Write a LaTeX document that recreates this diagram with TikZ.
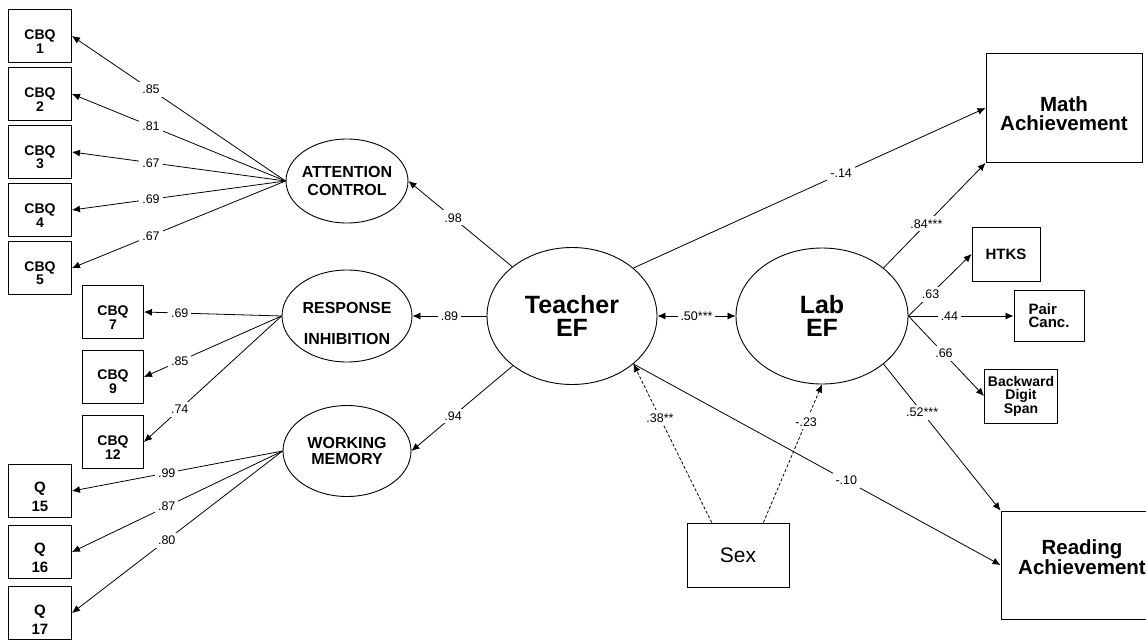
\documentclass[tikz,border=0pt]{standalone}
\usepackage{fontspec}
\setmainfont{Liberation Sans}
\usetikzlibrary{shapes.geometric,arrows.meta}

\begin{document}
\begin{tikzpicture}[x=1pt, y=-1pt, node distance=58pt,
>={Latex[length=8pt,width=7pt]},
every path/.style={line width=0.8pt},
obs/.style={rectangle, draw=black, line width=0.9pt, minimum width=63pt, minimum height=53pt, inner sep=0pt, align=center, font=\bfseries\fontsize{14}{12}\selectfont},
lat/.style={ellipse, draw=black, line width=0.9pt, inner xsep=-8pt, inner ysep=0pt, align=center, font=\bfseries\fontsize{16}{18}\selectfont},
lbl/.style={fill=white, inner sep=3pt, font=\fontsize{12.5}{14}\selectfont},
lower/.style={execute at begin node={\rule{0pt}{#1}}},
raise/.style={execute at end node={\rule[-#1]{0pt}{0pt}}}
]
\useasboundingbox (0,0) rectangle (1146,640);
%Nodes
\node[obs, lower=34pt]  (cbq1)    at (40,36)                  {CBQ\\1};
\node[obs, lower=34pt]  (cbq2)    [below of=cbq1]             {CBQ\\2};
\node[obs, lower=34pt]  (cbq3)    [below of=cbq2]             {CBQ\\3};
\node[obs, lower=34pt]  (cbq4)    [below of=cbq3]             {CBQ\\4};
\node[obs, lower=34pt]  (cbq5)    [below of=cbq4]             {CBQ\\5};
\node[obs, lower=34pt, minimum width=61pt, font=\bfseries\fontsize{14}{14}\selectfont] (cbq7)  at (113,312) {CBQ\\7};
\node[obs, lower=34pt, minimum width=61pt, font=\bfseries\fontsize{14}{14}\selectfont] (cbq9)  [below of=cbq7, yshift=-7pt] {CBQ\\9};
\node[obs, lower=34pt, minimum width=61pt, font=\bfseries\fontsize{14}{14}\selectfont] (cbq12) [below of=cbq9, yshift=-7pt] {CBQ\\12};
\node[obs, lower=42pt, font=\bfseries\fontsize{15}{19}\selectfont] (q15) at (40,491)                 {Q\\15};
\node[obs, lower=42pt, font=\bfseries\fontsize{15}{19}\selectfont] (q16) [below of=q15, yshift=-3pt] {Q\\16};
\node[obs, lower=42pt, font=\bfseries\fontsize{15}{19}\selectfont] (q17) [below of=q16, yshift=-3pt] {Q\\17};

\node[lat, minimum width=122pt, minimum height=84pt] (ac) at (347,181) {ATTENTION\\CONTROL};
\node[lat, lower=58pt, minimum width=130pt, minimum height=92pt] (ri) [below of=ac, yshift=-77pt] {RESPONSE\\[13pt]INHIBITION};
\node[lat, minimum width=128pt, minimum height=91pt, font=\bfseries\fontsize{16}{16}\selectfont] (wm) [below of=ri, yshift=-77pt] {WORKING\\MEMORY};

\node[lat, minimum width=170pt, minimum height=137pt, font=\bfseries\fontsize{25}{23}\selectfont] (tef) at (572,316) {Teacher\\EF};
\node[lat, minimum width=172pt, minimum height=136pt, font=\bfseries\fontsize{25}{23}\selectfont] (lef) [right of=tef, xshift=192pt] {Lab\\EF};

\node[obs, lower=45pt, minimum width=156pt, minimum height=109pt, font=\bfseries\fontsize{20.5}{19}\selectfont] (math) at (1064,108) {Math\\Achievement};
\node[obs, raise=16pt, minimum width=162pt, minimum height=108pt, font=\bfseries\fontsize{20.5}{19}\selectfont] (read) at (1082,565) {Reading\\Achievement};
\node[obs, minimum width=68pt, minimum height=54pt, font=\bfseries\fontsize{15}{13}\selectfont] (htks) at (1006,254) {HTKS};
\node[obs, minimum width=70pt, minimum height=51pt, align=left, font=\bfseries\fontsize{15}{13}\selectfont] (pair) at (1049,316) {Pair\\Canc.};
\node[obs, minimum width=73pt, minimum height=54pt, font=\bfseries\fontsize{14}{13.5}\selectfont] (bds) at (1021,396) {Backward\\Digit\\Span};
\node[obs, minimum width=102pt, minimum height=64pt, font=\fontsize{21}{24}\selectfont] (sex) at (738,555) {Sex};

%Lines
\draw[->] (ac.west) -- (cbq1.east) node [lbl, pos=0.63] {.85};
\draw[->] (ac.west) -- (cbq2.east) node [lbl, pos=0.63] {.81};
\draw[->] (ac.west) -- (cbq3.east) node [lbl, pos=0.63] {.67};
\draw[->] (ac.west) -- (cbq4.east) node [lbl, pos=0.63] {.69};
\draw[->] (ac.west) -- (cbq5.east) node [lbl, pos=0.63] {.67};
\draw[->] (ri.west) -- (cbq7.east) node [lbl, pos=0.74] {.69};
\draw[->] (ri.west) -- (cbq9.east) node [lbl, pos=0.74] {.85};
\draw[->] (ri.west) -- (cbq12.east) node [lbl, pos=0.74] {.74};
\draw[->] (wm.west) -- (q15.east) node [lbl, pos=0.55] {.99};
\draw[->] (wm.west) -- (q16.east) node [lbl, pos=0.55] {.87};
\draw[->] (wm.west) -- (q17.east) node [lbl, pos=0.55] {.80};

\draw[->] (tef) -- (ac.east) node [lbl, pos=0.57] {.98};
\draw[->] (tef.west) -- (ri.east) node [lbl, midway] {.89};
\draw[->] (tef) -- (wm.east) node [lbl, pos=0.59] {.94};
\draw[<->] (tef.east) -- (lef.west) node [lbl, midway] {.50***};

\draw[->] (tef.38) -- (math.west) node [lbl, pos=0.59] {-.14};
\draw[->] (tef.-38) -- (read.west) node [lbl, pos=0.58] {-.10};
\draw[->] (lef.38) -- (math.south west) node [lbl, pos=0.42] {.84***};
\draw[->] (lef.east) -- (htks.west) node [lbl, pos=0.35] {.63};
\draw[->] (lef.east) -- (pair.west) node [lbl, pos=0.39] {.44};
\draw[->] (lef.east) -- (bds.west) node [lbl, pos=0.47] {.66};
\draw[->] (lef.-38) -- (read.north west) node [lbl, pos=0.33] {.52***};

\draw[->, dash pattern=on 3pt off 2pt] (sex.129) -- (tef.-38) node [lbl, pos=0.66] {.38**};
\draw[->, dash pattern=on 3pt off 2pt] (sex.52) -- (lef.south) node [lbl, pos=0.73] {-.23};
\end{tikzpicture}
\end{document}
